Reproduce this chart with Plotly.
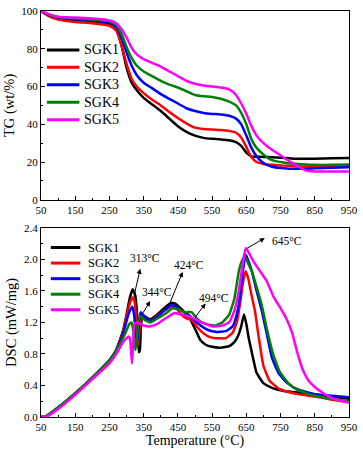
import plotly.graph_objects as go

names = ['SGK1', 'SGK2', 'SGK3', 'SGK4', 'SGK5']
colors = ['#000000', '#ff0000', '#0000ff', '#008000', '#ff00ff']

# TG curves (wt%), common temperature grid
tg_temp = [50, 75, 100, 150, 200, 250, 270, 285, 300, 315, 330, 350, 375, 400, 425, 450, 475, 500,
           525, 550, 575, 600, 620, 635, 650, 665, 680, 700, 725, 750, 775, 800, 825, 850, 900, 950]
tg_sgk1 = [100, 97.5, 96, 95, 94.5, 93, 90, 82, 70, 62, 58, 54, 50.5, 47, 43, 39, 36, 34,
           32.8, 32.3, 32, 31.5, 30.5, 28.5, 25, 23, 22.8, 22.7, 22.5, 22.3, 22, 21.7, 21.7, 21.8, 22, 22.2]
tg_sgk2 = [100, 97, 95.5, 94.2, 93.5, 92.2, 89.5, 82, 72, 64, 60, 56.5, 53, 50, 46.5, 43.3, 40.5, 38.2,
           37.5, 37.2, 37, 36.5, 35.5, 33, 28, 22.5, 20, 19, 18.5, 18.2, 18, 17.8, 17.6, 17.5, 17.8, 18]
tg_sgk3 = [100, 97.8, 96.5, 95.6, 95, 94, 91.5, 86, 78, 71, 66, 62, 59, 56, 53.5, 51, 48.5, 47,
           46, 45.5, 45.2, 44.5, 43, 40, 34, 27.5, 23, 19.5, 17.5, 16.8, 16.5, 16.5, 16.5, 16.7, 17, 17.2]
tg_sgk4 = [100, 98, 96.8, 96, 95.5, 94.5, 92.5, 88, 81, 75, 71, 68, 65.5, 63, 61, 59.5, 57.5, 55.5,
           54.8, 54.5, 53.5, 52, 50, 46, 40, 32, 27.5, 24, 21, 20, 19.3, 19, 18.7, 18.5, 18.5, 18.7]
tg_sgk5 = [100, 98.2, 97, 96.5, 96, 95, 93.5, 90.5, 86, 80.5, 77, 74.5, 72.5, 70.5, 68, 65.5, 63, 61.5,
           60.5, 60, 59.5, 58.5, 55.5, 51, 45.5, 39, 34, 30, 26.5, 23.5, 20.5, 17.8, 15.5, 15, 15, 15]

# DSC curves (mW/mg)
dsc_t1 = [50, 62, 100, 150, 200, 250, 270, 290, 300, 310, 318, 325, 330, 333, 336, 339, 342, 346, 355, 370,
          390, 410, 430, 445, 460, 475, 485, 500, 515, 530, 550, 575, 600, 615, 625, 635, 643, 650, 657, 667,
          680, 700, 725, 760, 800, 850, 900, 950]
dsc_y1 = [0, 0, 0.12, 0.3, 0.5, 0.72, 0.85, 1.1, 1.3, 1.52, 1.62, 1.55, 1.35, 1.05, 0.82, 0.85, 1.15, 1.3, 1.27, 1.24,
          1.3, 1.38, 1.45, 1.43, 1.37, 1.3, 1.25, 1.12, 0.98, 0.92, 0.89, 0.88, 0.9, 0.95, 1.02, 1.15, 1.3, 1.18, 1.0, 0.8,
          0.56, 0.43, 0.37, 0.33, 0.31, 0.29, 0.26, 0.23]

dsc_t2 = [50, 62, 100, 150, 200, 250, 270, 290, 300, 310, 318, 324, 328, 331, 334, 338, 342, 350, 370, 390,
          410, 430, 445, 460, 475, 490, 505, 520, 540, 560, 590, 610, 622, 632, 640, 648, 656, 665, 675, 685,
          700, 718, 745, 770, 800, 850, 900, 950]
dsc_y2 = [0, 0, 0.12, 0.3, 0.5, 0.72, 0.85, 1.08, 1.28, 1.45, 1.52, 1.45, 1.25, 1.0, 0.92, 1.1, 1.28, 1.26, 1.22, 1.28,
          1.35, 1.4, 1.38, 1.3, 1.25, 1.23, 1.15, 1.08, 1.02, 1.0, 1.0, 1.07, 1.2, 1.45, 1.7, 1.85, 1.75, 1.55, 1.35, 1.05,
          0.65, 0.46, 0.36, 0.32, 0.29, 0.26, 0.22, 0.19]

dsc_t3 = [50, 62, 100, 150, 200, 250, 270, 290, 300, 310, 317, 322, 326, 329, 332, 337, 342, 350, 370, 390,
          410, 430, 445, 460, 480, 500, 520, 540, 560, 590, 610, 622, 632, 640, 648, 656, 666, 680, 695, 710,
          725, 745, 770, 800, 850, 900, 950]
dsc_y3 = [0, 0, 0.12, 0.3, 0.5, 0.72, 0.85, 1.05, 1.22, 1.35, 1.4, 1.3, 1.1, 0.9, 1.0, 1.25, 1.33, 1.28, 1.22, 1.27,
          1.35, 1.42, 1.4, 1.35, 1.3, 1.22, 1.15, 1.1, 1.08, 1.09, 1.15, 1.3, 1.55, 1.85, 2.06, 1.98, 1.85, 1.6, 1.35, 1.05,
          0.75, 0.55, 0.43, 0.35, 0.29, 0.27, 0.25]

dsc_t4 = [50, 62, 100, 150, 200, 250, 270, 290, 300, 308, 314, 319, 323, 326, 329, 334, 339, 350, 370, 390,
          410, 435, 455, 470, 490, 505, 520, 540, 560, 580, 600, 615, 628, 636, 645, 655, 666, 680, 695, 710,
          728, 748, 775, 800, 850, 900, 950]
dsc_y4 = [0, 0, 0.12, 0.3, 0.5, 0.72, 0.84, 1.0, 1.1, 1.18, 1.2, 1.12, 0.95, 0.85, 0.95, 1.2, 1.28, 1.24, 1.2, 1.25,
          1.3, 1.38, 1.36, 1.33, 1.33, 1.25, 1.2, 1.17, 1.16, 1.2, 1.3, 1.5, 1.85, 1.97, 2.04, 1.95, 1.85, 1.65, 1.42, 1.12,
          0.8, 0.57, 0.42, 0.34, 0.27, 0.23, 0.2]

dsc_t5 = [50, 65, 100, 150, 200, 250, 270, 290, 300, 306, 310, 313, 316, 319, 323, 330, 350, 370, 390, 410,
          440, 460, 480, 500, 520, 550, 580, 600, 615, 628, 638, 648, 658, 670, 690, 710, 730, 750, 770, 785,
          800, 815, 832, 850, 872, 900, 950]
dsc_y5 = [0, 0, 0.1, 0.28, 0.48, 0.68, 0.8, 0.95, 1.0, 1.02, 1.0, 0.85, 0.68, 0.9, 1.18, 1.2, 1.16, 1.15, 1.18, 1.24,
          1.32, 1.3, 1.28, 1.24, 1.2, 1.15, 1.16, 1.2, 1.35, 1.6, 1.9, 2.14, 2.08, 1.98, 1.85, 1.72, 1.52, 1.38, 1.22, 1.05,
          0.8, 0.6, 0.46, 0.38, 0.31, 0.24, 0.18]

tg_series = [tg_sgk1, tg_sgk2, tg_sgk3, tg_sgk4, tg_sgk5]
dsc_series = [(dsc_t1, dsc_y1), (dsc_t2, dsc_y2), (dsc_t3, dsc_y3), (dsc_t4, dsc_y4), (dsc_t5, dsc_y5)]

# peak labels: text, label position, arrow tail (on curve), arrow head
peak_labels = ['313\u00b0C', '344\u00b0C', '424\u00b0C', '494\u00b0C', '645\u00b0C']
label_pos = [(354, 2.02), (388, 1.58), (482, 1.93), (555, 1.51), (770, 2.23)]
arrow_tail = [(321, 1.52), (345, 1.3), (426, 1.44), (498, 1.25), (648, 2.13)]
arrow_head = [(340, 1.88), (369, 1.47), (464, 1.84), (531, 1.44), (704, 2.27)]

FONT = 'Liberation Serif'
W, H = 363, 453
M = dict(l=41, r=9, t=5, b=36)


def px_to_paper(px, py):
    # window pixels -> paper coordinates (used for the hand-placed legends)
    return (px - M['l']) / (W - M['l'] - M['r']), (H - M['b'] - py) / (H - M['t'] - M['b'])


fig = go.Figure()
for name, color, ys in zip(names, colors, tg_series):
    fig.add_trace(go.Scatter(x=tg_temp, y=ys, mode='lines', name=name, showlegend=False,
                             line=dict(color=color, width=2.5, shape='spline', smoothing=0.6),
                             xaxis='x', yaxis='y'))
for name, color, (xs, ys) in zip(names, colors, dsc_series):
    fig.add_trace(go.Scatter(x=xs, y=ys, mode='lines', name=name, showlegend=False,
                             line=dict(color=color, width=2.5, shape='spline', smoothing=0.4),
                             xaxis='x2', yaxis='y2'))

for text, (lx, ly), (tx, ty), (hx, hy) in zip(peak_labels, label_pos, arrow_tail, arrow_head):
    fig.add_annotation(x=hx, y=hy, ax=tx, ay=ty, xref='x2', yref='y2', axref='x2', ayref='y2',
                       text='', showarrow=True, arrowhead=2, arrowsize=1, arrowwidth=1, arrowcolor='black')
    fig.add_annotation(x=lx, y=ly, xref='x2', yref='y2', text=text, showarrow=False,
                       font=dict(family=FONT, size=11.5, color='black'))

# legends: (line start, line end, text x, first row y, row step, font size) in pixels
legend_boxes = [(47, 80, 83, 44.5, 17.7, 14), (51, 81, 87, 245, 15.8, 12.5)]
for (x0, x1, xt, y0, step, fs) in legend_boxes:
    for i, (name, color) in enumerate(zip(names, colors)):
        py = y0 + step * i
        ax0, ay = px_to_paper(x0, py)
        ax1, _ = px_to_paper(x1, py)
        axt, _ = px_to_paper(xt, py)
        fig.add_shape(type='line', xref='paper', yref='paper', x0=ax0, x1=ax1, y0=ay, y1=ay,
                      line=dict(color=color, width=3))
        fig.add_annotation(x=axt, y=ay, xref='paper', yref='paper', text=name, showarrow=False,
                           xanchor='left', yanchor='middle', font=dict(family=FONT, size=fs, color='black'))

tickfont = dict(family=FONT, size=11, color='black')
xcommon = dict(range=[50, 950], tick0=50, dtick=100, ticks='inside', ticklen=4, tickcolor='black',
               minor=dict(ticks='inside', ticklen=2, tick0=50, dtick=50, tickcolor='black'),
               showline=True, linecolor='black', linewidth=1, mirror=True,
               showgrid=False, zeroline=False, tickfont=tickfont)

fig.update_layout(
    width=W, height=H,
    margin=M,
    plot_bgcolor='white', paper_bgcolor='white',
    font=dict(family=FONT, color='black'),
    xaxis=dict(xcommon, domain=[0, 1], anchor='y'),
    yaxis=dict(range=[0, 100], dtick=20, ticks='inside', ticklen=4, tickcolor='black',
               minor=dict(ticks='inside', ticklen=2, dtick=10, tickcolor='black'),
               showline=True, linecolor='black', linewidth=1, mirror=True,
               showgrid=False, zeroline=False, tickfont=tickfont,
               domain=[0.535, 1], anchor='x',
               title=dict(text='TG (wt/%)', font=dict(family=FONT, size=14.5), standoff=3)),
    xaxis2=dict(xcommon, domain=[0, 1], anchor='y2',
                title=dict(text='Temperature (\u00b0C)', font=dict(family=FONT, size=14), standoff=1)),
    yaxis2=dict(range=[0, 2.4], dtick=0.4, tickformat='.1f', ticks='inside', ticklen=4, tickcolor='black',
                minor=dict(ticks='inside', ticklen=2, dtick=0.2, tickcolor='black'),
                showline=True, linecolor='black', linewidth=1, mirror=True,
                showgrid=False, zeroline=False, tickfont=tickfont,
                domain=[0, 0.466], anchor='x2',
                title=dict(text='DSC (mW/mg)', font=dict(family=FONT, size=14.5), standoff=3)),
    showlegend=False,
)

# the page body has a default 8px margin; drop it so the figure sits at the window corner
fig.write_html("out.html", config={'displayModeBar': False},
               post_script="document.body.style.margin='0';")
